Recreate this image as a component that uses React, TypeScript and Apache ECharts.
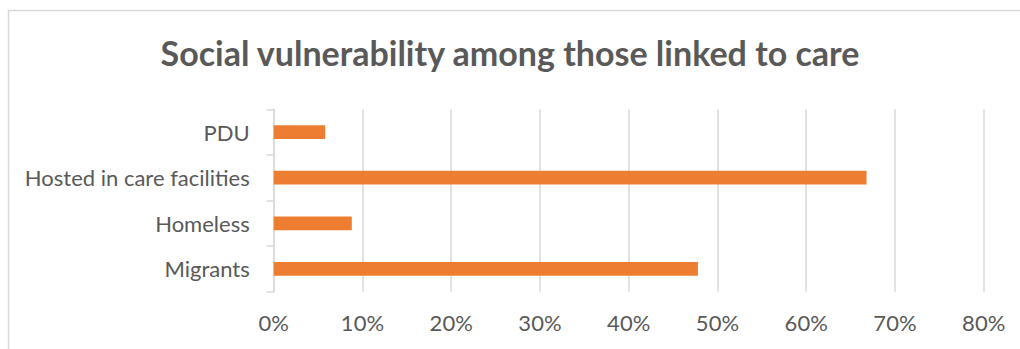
import React, { useEffect, useRef } from "react";
import * as echarts from "echarts";

// Categories listed bottom to top, as the value axis stacks them
const categories = ["Migrants", "Homeless", "Hosted in care facilities", "PDU"];
// Share of people linked to care, in percent
const shares = [47.8, 8.8, 66.8, 5.8];
const axisMax = 80;
const axisStep = 10;

const TITLE = "Social vulnerability among those linked to care";
const TEXT_GRAY = "#595959";
const LINE_GRAY = "#d9d9d9";
const BAR_ORANGE = "#ED7D31";
const FONT = "Lato, 'Open Sans', sans-serif";

export default function App() {
  const ref = useRef<HTMLDivElement>(null);

  useEffect(() => {
    if (!ref.current) return;
    const chart = echarts.init(ref.current, undefined, { renderer: "svg" });
    chart.setOption({
      animation: false,
      backgroundColor: "#ffffff",
      title: {
        text: TITLE,
        left: "center",
        top: 30,
        textStyle: {
          fontFamily: FONT,
          fontSize: 34,
          fontWeight: "bold",
          color: TEXT_GRAY,
        },
      },
      graphic: [
        {
          type: "rect",
          shape: { x: 8.5, y: 10.5, width: 1100, height: 400 },
          style: { fill: "none", stroke: LINE_GRAY, lineWidth: 1.5 },
          silent: true,
          z: -1,
        },
      ],
      grid: {
        left: 273.7,
        right: 36.3,
        top: 109.3,
        bottom: 57.3,
        containLabel: false,
      },
      xAxis: {
        type: "value",
        min: 0,
        max: axisMax,
        interval: axisStep,
        axisLine: { show: false },
        axisTick: { show: false },
        axisLabel: {
          formatter: "{value}%",
          margin: 20,
          fontFamily: FONT,
          fontSize: 22,
          color: TEXT_GRAY,
        },
        splitLine: { lineStyle: { color: LINE_GRAY, width: 1.5 } },
      },
      yAxis: {
        type: "category",
        data: categories,
        axisLine: { show: true, lineStyle: { color: LINE_GRAY, width: 1.5 } },
        axisTick: { show: true, length: 7, lineStyle: { color: LINE_GRAY, width: 1.5 } },
        axisLabel: {
          margin: 24,
          fontFamily: FONT,
          fontSize: 22,
          color: TEXT_GRAY,
        },
      },
      series: [
        {
          type: "bar",
          data: shares,
          barWidth: "30%",
          itemStyle: { color: BAR_ORANGE },
        },
      ],
    });
    return () => chart.dispose();
  }, []);

  return (
    <div
      ref={ref}
      style={{ position: "absolute", left: 0, top: 0, width: 1020, height: 349 }}
    />
  );
}
